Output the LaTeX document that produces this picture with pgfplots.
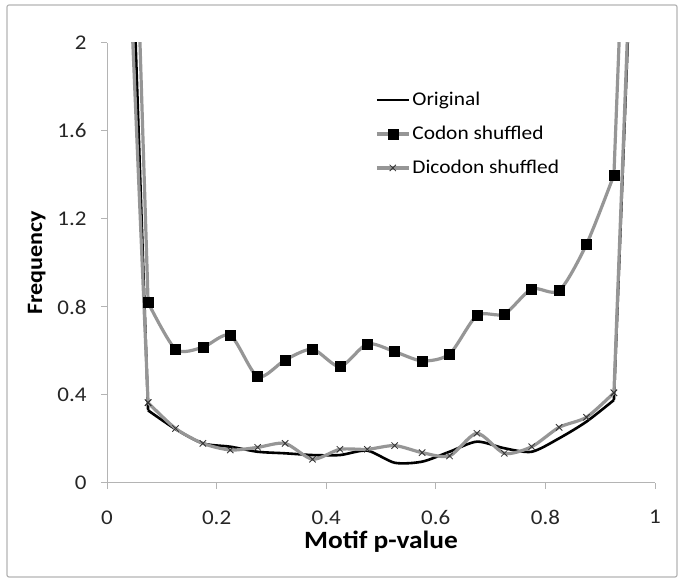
\documentclass[border=0pt]{standalone}
\usepackage{fontspec}
\setmainfont{Carlito}[FakeStretch=1.1]
\usepackage{pgfplots}
\pgfplotsset{compat=1.18}
\definecolor{linegray}{RGB}{150,150,150}
\definecolor{axgray}{RGB}{180,180,180}
\begin{document}
\begin{tikzpicture}[x=1bp,y=1bp]
\useasboundingbox (0,0) rectangle (685,583);
\draw[axgray, line width=1.2bp, rounded corners=2bp] (7,6) rectangle (677,578);
\begin{axis}[
  at={(107bp,100bp)}, anchor=south west,
  scale only axis, width=548bp, height=440bp,
  xmin=0, xmax=1, ymin=0, ymax=2,
  clip=true,
  axis x line*=bottom, axis y line*=left,
  axis line style={axgray, line width=1bp, -},
  xtick={0,0.2,0.4,0.6,0.8,1},
  ytick={0,0.4,0.8,1.2,1.6,2},
  xticklabels={0,0.2,0.4,0.6,0.8,1},
  yticklabels={0,0.4,0.8,1.2,1.6,2},
  tick style={axgray, line width=1bp},
  tick align=outside, major tick length=6bp,
  ticklabel style={font=\fontsize{21}{24}\selectfont, text=black!85},
  /pgf/number format/assume math mode=true,
  xticklabel style={yshift=-18bp},
  yticklabel style={xshift=-11bp},
  xlabel={Motif p-value}, ylabel={Frequency},
  every axis x label/.style={at={(axis description cs:0.5,-0.133)}, anchor=center, font=\fontsize{25}{28}\selectfont\bfseries},
  every axis y label/.style={at={(axis description cs:-0.128,0.5)}, anchor=center, rotate=90, font=\fontsize{22}{28}\selectfont\bfseries},
  legend style={at={(axis cs:0.489,1.785)}, anchor=north west, draw=none, fill=none,
    font=\fontsize{19.5}{24}\selectfont, row sep=15bp, inner sep=0pt},
  legend cell align=left,
  legend image code/.code={\draw[#1, mark repeat=2, mark phase=2] plot coordinates {(0bp,0bp) (16bp,0bp) (32bp,0bp)};},
]
% Original
\addplot[black, line width=2.6bp, smooth, tension=0.45] coordinates {
(0.075,0.33) (0.125,0.245) (0.175,0.18) (0.225,0.165) (0.275,0.142)
(0.325,0.135) (0.375,0.127) (0.425,0.127) (0.475,0.147) (0.525,0.092)
(0.575,0.097) (0.625,0.142) (0.675,0.188) (0.725,0.158) (0.775,0.142)
(0.825,0.203) (0.875,0.279) (0.925,0.377)};
\addlegendentry{Original}
\addplot[black, line width=2.6bp, forget plot] coordinates {(0.025,4.0) (0.075,0.33)};
\addplot[black, line width=2.6bp, forget plot] coordinates {(0.925,0.377) (0.975,3.6)};
% Codon shuffled
\addplot[linegray, line width=3.2bp, smooth, tension=0.45,
  mark=square*, mark size=5bp, mark options={fill=black, draw=black, line width=0.5bp}] coordinates {
(0.075,0.82) (0.125,0.608) (0.175,0.617) (0.225,0.671) (0.275,0.483)
(0.325,0.559) (0.375,0.608) (0.425,0.529) (0.475,0.632) (0.525,0.597)
(0.575,0.555) (0.625,0.586) (0.675,0.761) (0.725,0.768) (0.775,0.882)
(0.825,0.874) (0.875,1.085) (0.925,1.40)};
\addlegendentry{Codon shuffled}
% Dicodon shuffled
\addplot[linegray, line width=3.2bp, smooth, tension=0.45,
  mark=x, mark size=4.5bp, mark options={draw=black!80, line width=0.8bp}] coordinates {
(0.075,0.365) (0.125,0.248) (0.175,0.180) (0.225,0.150) (0.275,0.162)
(0.325,0.180) (0.375,0.108) (0.425,0.153) (0.475,0.153) (0.525,0.170)
(0.575,0.138) (0.625,0.123) (0.675,0.226) (0.725,0.135) (0.775,0.165)
(0.825,0.253) (0.875,0.299) (0.925,0.41)};
\addlegendentry{Dicodon shuffled}
% steep end segments of the shuffled series (values off the chart)
\addplot[linegray, line width=3.2bp, forget plot] coordinates {(0.025,4.8) (0.075,0.82)};
\addplot[linegray, line width=3.2bp, forget plot] coordinates {(0.925,1.40) (0.975,4.6)};
\addplot[linegray, line width=3.2bp, forget plot] coordinates {(0.025,3.3) (0.075,0.365)};
\addplot[linegray, line width=3.2bp, forget plot] coordinates {(0.925,0.41) (0.975,3.7)};
% redraw markers at the joints on top
\addplot[only marks, mark=square*, mark size=5bp, mark options={fill=black, draw=black, line width=0.5bp}, forget plot] coordinates {(0.075,0.82) (0.925,1.40)};
\addplot[only marks, mark=x, mark size=4.5bp, mark options={draw=black!80, line width=0.8bp}, forget plot] coordinates {(0.075,0.365) (0.925,0.41)};
\end{axis}
\end{tikzpicture}
\end{document}
